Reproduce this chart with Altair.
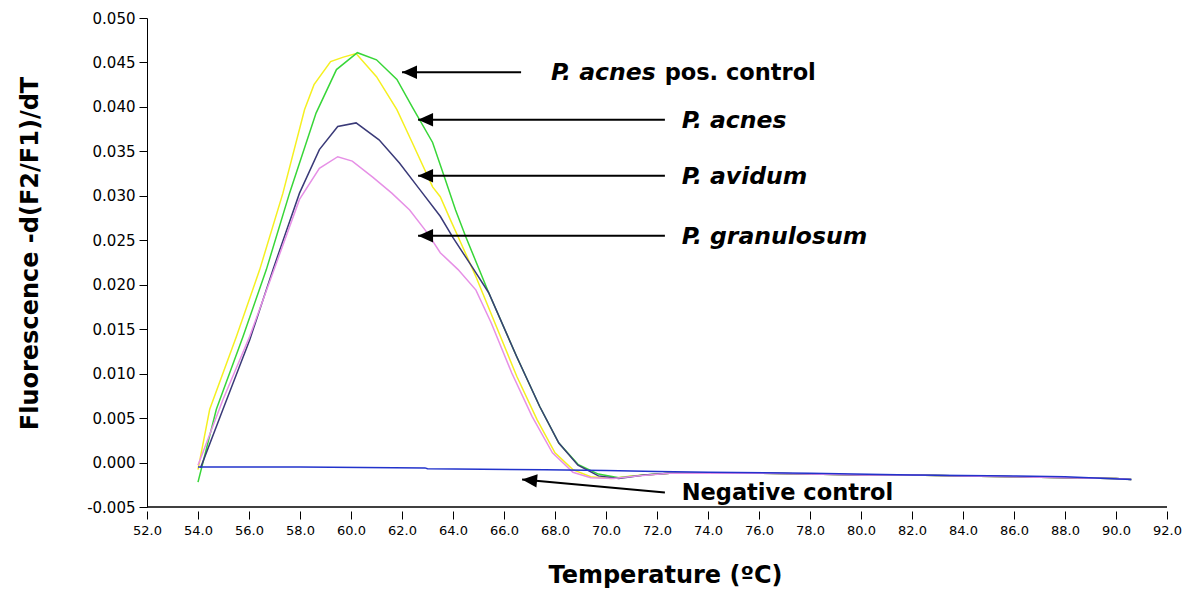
import altair as alt
import pandas as pd

# ---- data ----
yellow_t = [54.0, 54.46, 55.51, 56.42, 57.33, 58.18, 58.55, 59.2, 59.7, 60.2, 61.0, 61.8, 62.4, 63.2, 63.5, 63.9, 64.2, 64.9, 65.7, 66.5, 67.3, 68.0, 68.7, 69.4, 70.2, 71.0, 72.5, 74.0, 76.0, 78.0, 80.0, 82.0, 84.0, 86.0, 88.0, 90.0, 90.6]
yellow_v = [-0.0008, 0.0060, 0.0142, 0.0217, 0.0303, 0.0397, 0.0425, 0.0451, 0.0456, 0.0460, 0.0434, 0.0397, 0.0360, 0.0310, 0.0299, 0.0273, 0.0254, 0.0209, 0.0153, 0.0097, 0.0048, 0.0011, -0.0008, -0.0016, -0.0018, -0.0015, -0.0012, -0.0012, -0.0012, -0.0013, -0.0014, -0.0014, -0.0015, -0.0016, -0.0017, -0.0018, -0.0019]

green_t = [54.0, 54.72, 55.77, 56.68, 57.59, 58.63, 59.43, 60.25, 61.0, 61.8, 62.4, 63.2, 63.7, 64.1, 64.5, 65.4, 66.5, 67.4, 68.15, 68.9, 69.7, 70.5, 71.5, 72.5, 74.0, 76.0, 78.0, 80.0, 82.0, 84.0, 86.0, 88.0, 90.0, 90.6]
green_v = [-0.0022, 0.0060, 0.0142, 0.0217, 0.0303, 0.0393, 0.0442, 0.0461, 0.0453, 0.0431, 0.0400, 0.0360, 0.0318, 0.0284, 0.0254, 0.0191, 0.0119, 0.0063, 0.0022, -0.0002, -0.0013, -0.0017, -0.0014, -0.0012, -0.0012, -0.0012, -0.0013, -0.0014, -0.0014, -0.0015, -0.0016, -0.0017, -0.0018, -0.0019]

navy_t = [54.1, 54.98, 56.03, 56.94, 57.98, 58.76, 59.48, 60.2, 61.1, 61.9, 62.7, 63.5, 64.0, 64.75, 65.4, 66.5, 67.4, 68.15, 68.9, 69.7, 70.5, 71.5, 72.5, 74.0, 76.0, 78.0, 80.0, 82.0, 84.0, 86.0, 88.0, 90.0, 90.6]
navy_v = [-0.0006, 0.0060, 0.0138, 0.0217, 0.0303, 0.0352, 0.0378, 0.0382, 0.0363, 0.0337, 0.0307, 0.0277, 0.0253, 0.0220, 0.0191, 0.0119, 0.0063, 0.0022, -0.0003, -0.0015, -0.0018, -0.0014, -0.0012, -0.0012, -0.0012, -0.0013, -0.0014, -0.0014, -0.0015, -0.0016, -0.0017, -0.0018, -0.0019]

pink_t = [54.0, 54.98, 56.03, 57.07, 57.98, 58.76, 59.48, 60.05, 60.85, 61.6, 62.3, 63.0, 63.5, 64.2, 64.9, 65.5, 66.3, 67.1, 67.9, 68.7, 69.4, 70.3, 71.2, 72.5, 74.0, 76.0, 78.0, 80.0, 82.0, 84.0, 86.0, 88.0, 90.0, 90.6]
pink_v = [-0.0003, 0.0071, 0.0142, 0.0224, 0.0296, 0.0331, 0.0344, 0.0339, 0.0321, 0.0303, 0.0284, 0.0258, 0.0236, 0.0217, 0.0194, 0.0157, 0.0101, 0.0052, 0.0011, -0.0011, -0.0017, -0.0018, -0.0015, -0.0012, -0.0012, -0.0012, -0.0013, -0.0014, -0.0014, -0.0015, -0.0016, -0.0017, -0.0018, -0.0019]

neg_t = [54.0, 58.0, 62.9, 63.0, 67.6, 70.0, 72.0, 74.0, 78.0, 82.0, 86.0, 88.0, 90.6]
neg_v = [-0.0005, -0.0005, -0.0006, -0.0007, -0.0008, -0.0009, -0.0010, -0.0011, -0.0012, -0.0014, -0.0015, -0.0016, -0.0019]

series_names = ["P. acnes pos. control", "P. acnes", "P. avidum", "P. granulosum", "Negative control"]
series_colors = ["#f5f020", "#38d638", "#3a3a78", "#e690e6", "#2233cc"]

# annotations (data coordinates)
arrow_x = [62.0, 62.63, 62.63, 62.63, 66.71]
arrow_y = [0.0439, 0.03855, 0.03226, 0.02551, -0.00191]
arrow_x2 = [66.67, 72.31, 72.31, 72.31, 72.31]
arrow_y2 = [0.0439, 0.03855, 0.03226, 0.02551, -0.00337]
arrow_angle = [0, 0, 0, 0, 5.2]

label_text = ["P. acnes", "pos. control", "P. acnes", "P. avidum", "P. granulosum", "Negative control"]
label_x = [67.84, 72.3, 72.97, 72.97, 72.97, 72.97]
label_y = [0.0438, 0.0438, 0.03844, 0.03215, 0.0254, -0.00348]
label_style = ["italic", "normal", "italic", "italic", "italic", "normal"]

x_ticks = [52 + 2 * i for i in range(21)]
y_ticks = [round(-0.005 + 0.005 * i, 3) for i in range(12)]

# ---- tables ----
rows = []
for name, ts, vs in zip(series_names,
                        [yellow_t, green_t, navy_t, pink_t, neg_t],
                        [yellow_v, green_v, navy_v, pink_v, neg_v]):
    for order, (t, v) in enumerate(zip(ts, vs)):
        rows.append({"series": name, "T": t, "v": v, "o": order})
df = pd.DataFrame(rows)

arrows = pd.DataFrame({"x": arrow_x, "y": arrow_y, "x2": arrow_x2, "y2": arrow_y2, "angle": arrow_angle})
labels = pd.DataFrame({"text": label_text, "x": label_x, "y": label_y, "style": label_style})
xdom = pd.DataFrame({"x": [52.0], "x2": [92.0], "y": [-0.005]})

xs = alt.Scale(domain=[52, 92], nice=False, zero=False)
ys = alt.Scale(domain=[-0.005, 0.05], nice=False, zero=False)

FONT = "DejaVu Sans"

lines = alt.Chart(df).mark_line(strokeWidth=1.5, clip=True).encode(
    x=alt.X("T:Q", scale=xs, axis=alt.Axis(
        values=x_ticks, format=".1f", domain=False, offset=4, tickSize=8,
        tickColor="black", labelColor="black", labelFont=FONT, labelFontSize=13,
        labelPadding=5, labelFlush=False, labelOverlap=False, labelBound=False,
        grid=False, title="Temperature (ºC)",
        titleFont=FONT, titleFontSize=24, titleFontWeight="bold", titleColor="black",
        titleX=518, titleY=64, titleAlign="center", titleBaseline="middle")),
    y=alt.Y("v:Q", scale=ys, axis=alt.Axis(
        values=y_ticks, labelExpr="replace(format(datum.value, '.3f'), '\u2212', '-')",
        domainColor="black", tickSize=8, tickColor="black", labelColor="black",
        labelFont=FONT, labelFontSize=15, labelPadding=4, labelFlush=False,
        labelOverlap=False, labelBound=False, grid=False,
        title="Fluorescence -d(F2/F1)/dT", titleFont=FONT, titleFontSize=24,
        titleFontWeight="bold", titleColor="black", titleAngle=270,
        titleX=-117, titleY=235, titleAlign="center", titleBaseline="middle")),
    color=alt.Color("series:N", scale=alt.Scale(domain=series_names, range=series_colors), legend=None),
    order=alt.Order("o:Q"),
    detail="series:N",
)

xline = alt.Chart(xdom).mark_rule(color="black", strokeWidth=1.5).encode(
    x=alt.X("x:Q", scale=xs), x2="x2", y=alt.Y("y:Q", scale=ys))

shafts = alt.Chart(arrows).mark_rule(color="black", strokeWidth=2).encode(
    x=alt.X("x:Q", scale=xs), x2="x2", y=alt.Y("y:Q", scale=ys), y2="y2")

heads = alt.Chart(arrows).mark_point(
    shape="M0,0L2,-0.9L2,0.9Z", size=225, filled=True, color="black", opacity=1, strokeWidth=0
).encode(x=alt.X("x:Q", scale=xs), y=alt.Y("y:Q", scale=ys), angle=alt.Angle("angle:Q", scale=None))

italic_texts = alt.Chart(labels).transform_filter(alt.datum.style == "italic").mark_text(
    align="left", baseline="middle", font=FONT, fontSize=23.5, fontWeight="bold",
    fontStyle="italic", color="black"
).encode(x=alt.X("x:Q", scale=xs), y=alt.Y("y:Q", scale=ys), text="text:N")

normal_texts = alt.Chart(labels).transform_filter(alt.datum.style == "normal").mark_text(
    align="left", baseline="middle", font=FONT, fontSize=22.5, fontWeight="bold", color="black"
).encode(x=alt.X("x:Q", scale=xs), y=alt.Y("y:Q", scale=ys), text="text:N")

chart = alt.layer(lines, xline, shafts, heads, italic_texts, normal_texts).properties(
    width=1020, height=489,
    padding={"left": 147, "top": 18, "right": 17, "bottom": 85},
    autosize=alt.AutoSizeParams(type="none"),
    background="white",
).configure_view(stroke=None)

chart.save("out.html", embed_options={"renderer": "svg", "actions": False})
